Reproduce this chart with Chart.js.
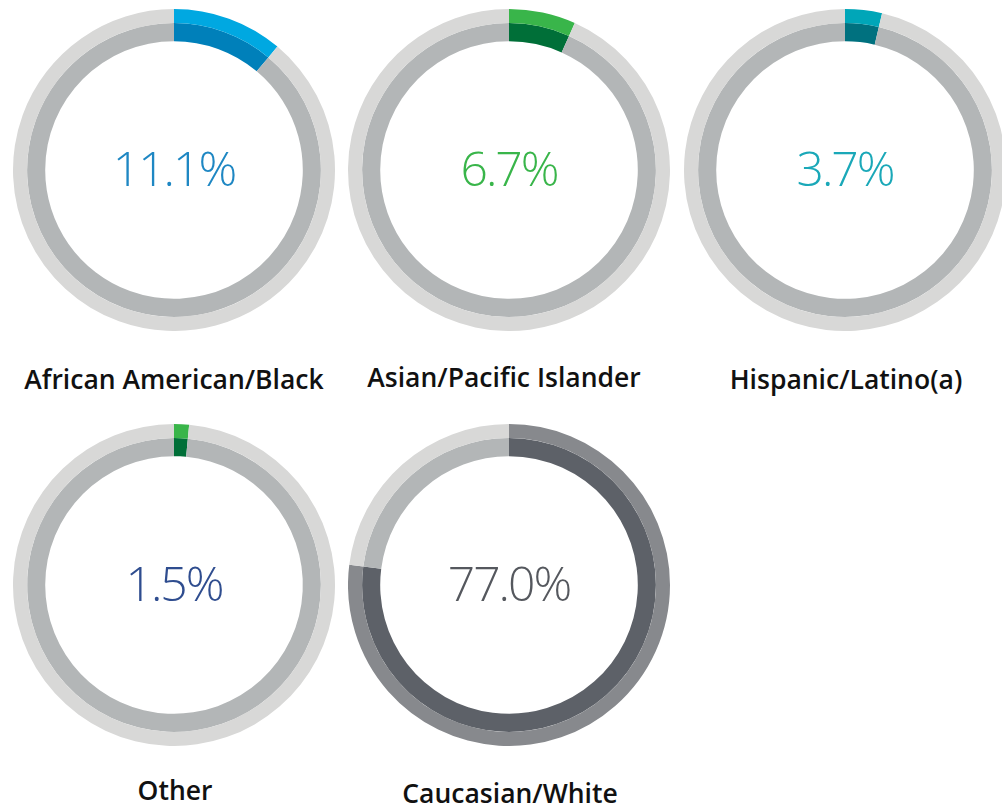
<!DOCTYPE html>
<html>
<head>
<meta charset="utf-8">
<script src="https://cdn.jsdelivr.net/npm/chart.js@4.4.1/dist/chart.umd.min.js"></script>
<style>
  html, body { margin: 0; padding: 0; background: #fff; }
  #wrap { position: relative; width: 1002px; height: 807px; overflow: hidden; }
  .ring { position: absolute; width: 322px; height: 322px; }
  .lbl {
    position: absolute;
    transform: translate(-50%, -50%);
    white-space: nowrap;
    font-family: "Open Sans", sans-serif;
    font-weight: 600;
    font-size: 26.5px;
    color: #111;
  }
</style>
</head>
<body>
<div id="wrap"></div>
<script>
"use strict";

// grupos y porcentajes
const grupos = ["African American/Black", "Asian/Pacific Islander", "Hispanic/Latino(a)", "Other", "Caucasian/White"];
const porcentajes = [11.1, 6.7, 3.7, 1.5, 77.0];

// colores: anillo exterior (claro), anillo interior (oscuro), texto del centro
const colorExterior = ["#00a8e1", "#39b54a", "#00a6b8", "#39b54a", "#87898d"];
const colorInterior = ["#0080ba", "#006f38", "#00717f", "#006f38", "#5d6168"];
const colorTexto = ["#1e87c3", "#39b54a", "#1aa8b8", "#2f4d8f", "#55585e"];
const grisExterior = "#d8d8d7";
const grisInterior = "#b3b6b7";

// centro de cada dona y posicion del rotulo
const centros = [[174, 170], [509, 170], [845, 170], [174, 585], [509, 585]];
const rotulos = [[174, 379], [504, 377], [846, 379], [175, 790], [510, 793]];

const wrap = document.getElementById("wrap");

// plugin que escribe el porcentaje en el medio de la dona
const textoCentro = {
    id: "textoCentro",
    afterDraw(chart, args, opts) {
        const ctx = chart.ctx;
        const arc = chart.getDatasetMeta(0).data[0];
        ctx.save();
        ctx.font = "300 48px 'Open Sans'";
        ctx.letterSpacing = "-2px";
        ctx.fillStyle = opts.color;
        ctx.textAlign = "center";
        ctx.textBaseline = "middle";
        ctx.fillText(opts.valor.toFixed(1) + "%", arc.x, arc.y + 2);
        ctx.restore();
    }
};

grupos.forEach((grupo, i) => {
    const canvas = document.createElement("canvas");
    canvas.className = "ring";
    canvas.width = 322;
    canvas.height = 322;
    canvas.style.left = (centros[i][0] - 161) + "px";
    canvas.style.top = (centros[i][1] - 161) + "px";
    wrap.appendChild(canvas);

    const resto = +(100 - porcentajes[i]).toFixed(1);

    new Chart(canvas.getContext("2d"), {
        type: "doughnut",
        data: {
            labels: [grupo, "resto"],
            datasets: [
                {
                    data: [porcentajes[i], resto],
                    backgroundColor: [colorExterior[i], grisExterior],
                    borderWidth: 0,
                    weight: 14
                },
                {
                    data: [porcentajes[i], resto],
                    backgroundColor: [colorInterior[i], grisInterior],
                    borderWidth: 0,
                    weight: 18
                }
            ]
        },
        options: {
            responsive: false,
            animation: false,
            cutout: "80%",
            plugins: {
                legend: { display: false },
                tooltip: { enabled: false },
                textoCentro: { valor: porcentajes[i], color: colorTexto[i] }
            }
        },
        plugins: [textoCentro]
    });

    const lbl = document.createElement("div");
    lbl.className = "lbl";
    lbl.textContent = grupo;
    lbl.style.left = rotulos[i][0] + "px";
    lbl.style.top = rotulos[i][1] + "px";
    wrap.appendChild(lbl);
});
</script>
</body>
</html>
